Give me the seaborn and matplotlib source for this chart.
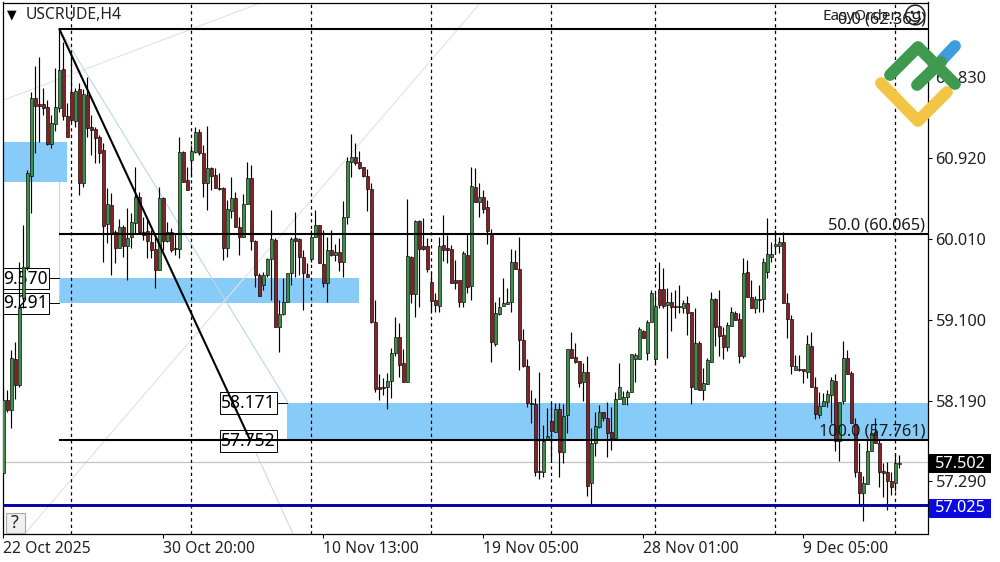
import numpy as np
import pandas as pd
import matplotlib
matplotlib.use("Agg")
import matplotlib.pyplot as plt
from matplotlib.patches import Rectangle
from matplotlib.lines import Line2D
import seaborn as sns

opens = [57.38,58.20,58.09,58.66,58.37,59.35,59.69,60.72,61.59,61.53,
61.53,61.49,61.08,61.30,61.48,61.92,61.39,61.66,61.34,61.69,
60.64,61.63,61.27,61.25,61.16,61.01,60.18,60.39,60.09,59.91,
60.15,59.93,60.03,60.19,60.48,60.09,60.10,59.98,59.90,59.66,
60.47,59.99,60.09,59.91,59.90,60.99,60.67,60.90,60.99,61.21,
60.98,60.64,60.81,60.73,60.58,60.58,59.91,60.32,60.47,60.15,
60.03,60.40,60.70,59.99,59.60,59.49,59.60,59.78,60.00,59.02,
59.17,59.30,59.63,60.02,60.01,59.81,59.62,59.78,60.03,60.17,
59.73,59.52,59.89,59.83,59.86,59.75,60.26,60.88,60.93,60.88,
60.82,60.72,60.57,59.08,58.35,58.35,58.35,58.41,58.73,58.91,
58.62,58.40,59.81,59.39,60.21,59.93,59.93,59.53,59.32,59.26,
59.94,59.91,59.90,59.55,59.55,59.30,59.83,59.48,60.59,60.43,
60.48,60.37,60.08,58.83,59.17,59.26,59.28,59.30,59.75,59.67,
58.87,58.58,58.17,58.16,57.40,57.39,57.75,57.96,57.84,58.10,
57.62,58.03,58.77,58.68,58.64,58.40,58.52,57.27,57.72,57.90,
58.07,58.00,57.84,57.77,58.21,58.16,58.23,58.29,58.66,58.66,
58.98,58.73,59.08,58.66,59.45,59.45,59.27,59.30,59.26,59.26,
59.23,59.29,59.19,58.32,58.84,58.31,58.38,58.63,59.34,59.03,
58.93,58.80,59.03,59.18,59.11,58.70,59.64,59.36,59.23,59.34,
59.34,59.64,59.81,59.93,59.93,59.98,59.29,59.11,58.54,58.55,
58.55,58.52,58.81,58.35,58.03,58.13,58.18,58.26,58.41,57.74,
58.19,58.67,58.51,57.93,57.39,57.16,57.26,57.63,57.84,57.72,
57.40,57.39,57.29,57.27,57.48]

highs = [58.35,58.31,58.76,58.85,59.75,60.17,60.79,61.66,61.95,62.05,
61.71,61.57,61.40,61.93,62.36,62.22,61.54,62.11,61.71,61.76,
61.70,61.83,61.40,61.27,61.18,61.09,60.58,60.53,60.11,60.23,
60.17,60.36,60.30,60.82,60.54,60.26,60.22,60.11,60.08,60.59,
60.48,60.20,60.13,60.08,61.16,61.00,60.82,61.07,61.27,61.25,
61.07,61.28,60.82,60.81,60.75,60.59,60.45,60.71,60.54,60.26,
60.52,60.88,60.84,60.00,59.63,59.64,59.80,60.34,60.02,59.32,
59.57,59.63,60.03,60.31,60.02,59.89,59.74,60.11,60.34,60.17,
60.11,60.03,60.11,59.95,60.02,60.44,60.93,61.19,61.09,61.00,
60.82,60.80,60.64,59.32,58.49,58.45,58.51,58.78,59.13,59.07,
58.77,60.46,59.82,60.22,60.22,60.25,60.02,59.64,59.40,60.03,
60.28,60.06,59.94,59.77,59.55,59.87,60.08,60.82,60.81,60.64,
60.56,60.45,60.12,59.30,59.36,59.57,59.46,59.90,59.89,60.03,
59.00,58.66,58.31,58.22,58.52,57.92,58.11,58.17,58.17,58.17,
58.16,58.77,58.97,58.84,58.64,58.62,58.70,57.89,58.07,58.14,
58.07,58.18,58.12,58.29,58.62,58.30,58.31,58.72,58.73,59.02,
58.99,59.10,59.44,59.40,59.75,59.68,59.46,59.41,59.44,59.49,
59.32,59.37,59.19,59.23,58.86,58.56,58.67,59.41,59.35,59.44,
59.02,59.08,59.25,59.20,59.18,59.80,59.77,59.55,59.37,59.49,
59.80,60.25,59.98,60.11,60.03,60.09,59.40,59.16,58.71,58.71,
58.55,58.93,58.97,58.46,58.29,58.28,58.31,58.46,58.49,58.18,
58.86,58.76,58.53,58.00,57.72,57.35,57.76,57.86,58.00,57.75,
57.49,57.50,57.39,57.61,57.58]

lows = [57.38,58.07,57.89,58.21,58.35,59.23,59.66,60.30,60.98,61.10,
61.40,61.07,61.03,61.22,61.44,61.35,61.16,61.32,61.27,60.50,
60.59,61.16,60.95,60.86,60.86,59.75,59.96,59.60,59.74,59.91,
59.81,59.55,59.91,60.08,60.08,60.00,59.80,59.80,59.46,59.66,
59.89,59.98,59.86,59.83,59.80,60.65,60.56,60.71,60.98,60.95,
60.48,60.34,60.56,60.58,60.56,59.77,59.81,60.25,60.15,59.83,
60.03,60.40,59.89,59.47,59.37,59.44,59.58,59.32,59.02,58.74,
59.16,59.30,59.49,59.58,59.60,59.21,59.58,59.75,60.03,59.74,
59.47,59.30,59.82,59.76,59.65,59.58,60.18,60.71,60.84,60.80,
60.71,60.32,59.07,58.29,58.20,58.26,58.10,58.22,58.70,58.46,
58.40,58.40,59.29,59.13,59.25,59.89,59.64,59.20,59.19,59.19,
59.76,59.74,59.52,59.45,59.25,59.25,59.40,59.32,60.43,60.26,
60.30,59.95,58.63,58.81,59.16,59.26,59.28,59.19,59.67,58.54,
58.57,58.12,57.94,57.35,57.31,57.34,57.75,57.53,57.84,57.34,
57.49,57.83,58.67,58.62,58.35,58.19,57.12,57.03,57.57,57.89,
57.96,57.56,57.64,57.77,58.21,58.16,58.14,58.29,58.40,58.66,
58.90,58.65,59.08,58.61,59.23,59.23,58.67,58.98,59.12,59.18,
59.18,58.93,58.16,58.32,58.31,58.20,58.38,58.63,58.81,58.70,
58.66,58.75,59.03,59.10,58.62,58.67,59.36,59.23,59.18,59.19,
59.19,59.57,59.75,59.85,59.85,59.29,58.90,58.49,58.54,58.53,
58.39,58.45,58.35,57.99,58.00,58.13,58.12,57.94,57.63,57.52,
58.16,58.49,57.94,57.34,57.03,56.84,57.26,57.63,57.72,57.22,
57.11,56.96,57.13,57.18,57.44]

closes = [58.20,58.09,58.67,58.37,59.23,59.69,60.75,61.59,61.50,61.50,
61.48,61.08,61.31,61.49,61.91,61.39,61.16,61.35,61.67,60.64,
61.64,61.26,61.23,61.14,60.98,60.16,60.40,60.08,59.91,60.15,
59.93,60.02,60.20,60.48,60.09,60.06,59.99,59.89,59.66,60.47,
59.99,60.09,59.89,59.90,60.99,60.65,60.56,61.00,61.21,60.98,
60.64,60.81,60.72,60.58,60.57,59.91,60.35,60.47,60.15,60.03,
60.40,60.70,59.99,59.60,59.37,59.60,59.78,60.01,59.02,59.17,
59.30,59.63,60.01,59.99,59.81,59.63,59.58,60.03,60.17,59.74,
59.52,59.89,59.83,59.86,59.75,60.26,60.89,60.93,60.86,60.81,
60.72,60.57,59.08,58.32,58.32,58.34,58.41,58.73,58.91,58.59,
58.40,59.82,59.39,60.21,59.90,59.90,59.67,59.31,59.27,59.93,
59.89,59.89,59.52,59.52,59.30,59.85,59.47,60.61,60.43,60.48,
60.35,60.10,58.85,59.18,59.25,59.29,59.30,59.75,59.67,58.87,
58.58,58.17,58.16,57.39,57.39,57.74,57.80,57.85,58.10,57.62,
58.02,58.77,58.67,58.63,58.39,58.52,57.23,57.72,57.91,58.07,
58.00,57.83,57.77,58.21,58.35,58.23,58.29,58.72,58.71,59.00,
58.90,59.08,59.40,59.26,59.27,59.26,59.30,59.25,59.25,59.25,
59.29,59.18,58.35,58.84,58.31,58.39,58.65,59.34,59.02,58.92,
58.80,59.04,59.19,59.10,58.70,59.63,59.36,59.23,59.34,59.32,
59.75,59.84,59.84,59.95,59.98,59.29,59.11,58.58,58.58,58.54,
58.53,58.83,58.35,58.04,58.13,58.19,58.27,58.43,57.74,58.18,
58.67,58.49,57.94,57.39,57.16,57.27,57.63,57.83,57.72,57.39,
57.38,57.29,57.22,57.49,57.49]

tick_prices = [61.830, 60.920, 60.010, 59.100, 58.190, 57.290]
time_ticks = [0, 40, 80, 120, 160, 200]
time_labels = ["22 Oct 2025", "30 Oct 20:00", "10 Nov 13:00", "19 Nov 05:00", "28 Nov 01:00", "9 Dec 05:00"]
session_bars = [17, 47, 77, 107, 137, 163, 193, 223]
fib_levels = [62.369, 60.065, 57.752]
fib_labels = ["0.0 (62.369)", "50.0 (60.065)", "100.0 (57.761)"]
bid_price = 57.502
stop_price = 57.025
zone_lefts = [-0.2, 14, 71]
zone_rights = [15.9, 88.9, 231.05]
zone_tops = [61.10, 59.570, 58.171]
zone_bottoms = [60.65, 59.291, 57.752]

sns.set_theme(style="white")
plt.rcParams["font.family"] = ["Noto Sans", "DejaVu Sans"]
FS = 11.3
FSY = 11.8
FSB = 12.5

df = pd.DataFrame({"o": opens, "h": highs, "l": lows, "c": closes})
df["bar"] = np.arange(len(df))
df["bottom"] = df[["o", "c"]].min(axis=1)
df["body"] = (df["c"] - df["o"]).abs()

W, H = 1000, 562
fig = plt.figure(figsize=(10, 5.62), dpi=100, facecolor="white")
ax = fig.add_axes([2.5 / W, 1 - 533.5 / H, 925 / W, 531 / H])

def P(x, y):
    return (x / W, 1 - y / H)

TF = fig.transFigure

# zones
for a, b, t, bt in zip(zone_lefts, zone_rights, zone_tops, zone_bottoms):
    ax.add_patch(Rectangle((a, bt), b - a, t - bt, fc="#87CCF9", ec="none", zorder=1))

# session separators
for s in session_bars:
    ax.axvline(s, color="black", lw=0.9, dashes=(2.6, 2.6), zorder=1.5)

# thin drawn lines
ax.plot([0, 64.2], [61.57, 62.66], color="#e2e2e2", lw=0.8, zorder=1.2)
ax.plot([5.4, 119.2], [56.70, 62.66], color="#e2e2e2", lw=0.8, zorder=1.2)
ax.plot([14, 71.2], [62.369, 58.171], color="#b9d8ec", lw=0.8, zorder=1.2)
ax.plot([14, 14], [60.65, 59.291], color="#b9d8ec", lw=0.8, zorder=1.2)
ax.plot([61.7, 72.4], [57.752, 56.70], color="#d6d6d6", lw=0.8, zorder=1.2)
ax.axhline(bid_price, color="#c4c4c4", lw=0.9, zorder=1.3)

# left-hand zone labels sit under the candles
for txt, y0, y1 in [("9.570", 268, 289), ("9.291", 293, 314)]:
    ax.add_patch(Rectangle(P(3, y1), 46 / W, (y1 - y0) / H, transform=TF, fc="white", ec="black", lw=0.7, zorder=1.6))
    ax.text(*P(3.5, (y0 + y1) / 2), txt, transform=TF, ha="left", va="center", fontsize=FSB, color="black", zorder=1.7)
for y in (278, 303):
    ax.add_line(Line2D([49 / W, 59 / W], [1 - y / H] * 2, transform=TF, color="black", lw=0.7, zorder=1.6))

# candles
ax.vlines(df["bar"], df["l"], df["h"], color="black", lw=0.85, zorder=2)
up = df[df["c"] >= df["o"]]
down = df[df["c"] < df["o"]]
for part, col in ((up, "#3E8E4A"), (down, "#8A1F24")):
    sns.barplot(data=part, x="bar", y="body", bottom=part["bottom"].to_numpy(), native_scale=True,
                errorbar=None, color=col, saturation=1, width=0.68,
                edgecolor="black", linewidth=0.45, ax=ax, zorder=3)

# price boxes of the trend label
for txt, y0, y1 in [("58.171", 392, 414), ("57.752", 430, 452)]:
    ax.add_patch(Rectangle(P(220, y1), 57 / W, (y1 - y0) / H, transform=TF, fc="white", ec="black", lw=0.7, zorder=3.4))
    ax.text(*P(248.5, (y0 + y1) / 2), txt, transform=TF, ha="center", va="center", fontsize=FSB, color="black", zorder=3.5)
ax.add_line(Line2D([277 / W, 287 / W], [1 - 403 / H] * 2, transform=TF, color="black", lw=0.7, zorder=3.4))

# fibonacci and trend
for lv in fib_levels:
    ax.plot([14, 231.05], [lv, lv], color="black", lw=1.5, zorder=4, solid_capstyle="butt")
ax.plot([14, 61.7], [62.369, 57.752], color="black", lw=1.5, zorder=4)
ax.axhline(stop_price, color="#0000A8", lw=2.1, zorder=4)

for txt, y in zip(fib_labels, (20, 225, 431)):
    ax.text(*P(925.5, y), txt, transform=TF, ha="right", va="center", fontsize=FSY, color="#1a1a1a", zorder=6)

ax.set_xlim(-0.2, 231.05)
ax.set_ylim(56.7014, 62.667)
ax.set_xlabel("")
ax.set_ylabel("")

ax.set_xticks(time_ticks)
ax.set_xticklabels(time_labels, ha="left", fontsize=FS, color="#222222")
ax.yaxis.tick_right()
ax.set_yticks(tick_prices)
ax.set_yticklabels([f"{p:.3f}" for p in tick_prices], fontsize=FSY, color="#222222")
ax.tick_params(axis="x", length=3, width=0.8, color="black", pad=2.5, bottom=True)
ax.tick_params(axis="y", length=3, width=0.8, color="black", pad=2.8, right=True, left=False)
for sp in ax.spines.values():
    sp.set_visible(True)
    sp.set_color("black")
    sp.set_linewidth(0.9)

# header
ax.text(*P(12, 14.5), "▼", transform=TF, ha="center", va="center", fontsize=9, color="black", family=["DejaVu Sans"], zorder=6)
ax.text(*P(26, 15), "USCRUDE,H4", transform=TF, ha="left", va="center", fontsize=FS, color="#222222", zorder=6)
ax.text(*P(823, 16), "EasyOrder:", transform=TF, ha="left", va="center", fontsize=11, color="#222222", zorder=6)
ax.text(*P(914, 17), "☺", transform=TF, ha="center", va="center", fontsize=17, color="#222222", family=["DejaVu Sans"], zorder=6)

# help button
ax.add_patch(Rectangle(P(6, 533), 19 / W, 20 / H, transform=TF, fc="#f0f0f0", ec="#a8a8a8", lw=0.8, zorder=5))
ax.text(*P(15, 522.5), "?", transform=TF, ha="center", va="center", fontsize=13, color="#222222", zorder=6)

# price flags
for txt, y0, y1, col in [(f"{bid_price:.3f}", 454, 473, "black"), (f"{stop_price:.3f}", 499, 518, "#0A0AE0")]:
    fig.add_artist(Rectangle(P(929, y1), 62 / W, (y1 - y0) / H, transform=TF, fc=col, ec="none"))
    fig.text(*P(935, (y0 + y1) / 2), txt, ha="left", va="center", fontsize=FSY, color="white")

# logo
def stroke(pts, col):
    xs = [p[0] / W for p in pts]
    ys = [1 - p[1] / H for p in pts]
    fig.add_artist(Line2D(xs, ys, transform=TF, color=col, lw=8.5, solid_capstyle="round", solid_joinstyle="round"))

stroke([(940, 62), (955, 46)], "#3E9BDD")
stroke([(881, 83), (918, 121), (947, 92)], "#F2C644")
stroke([(917, 85), (941, 62)], "#3F9A50")
stroke([(890, 75), (918, 47), (955, 84)], "#3F9A50")

fig.savefig("out.png", dpi=100, facecolor="white")
